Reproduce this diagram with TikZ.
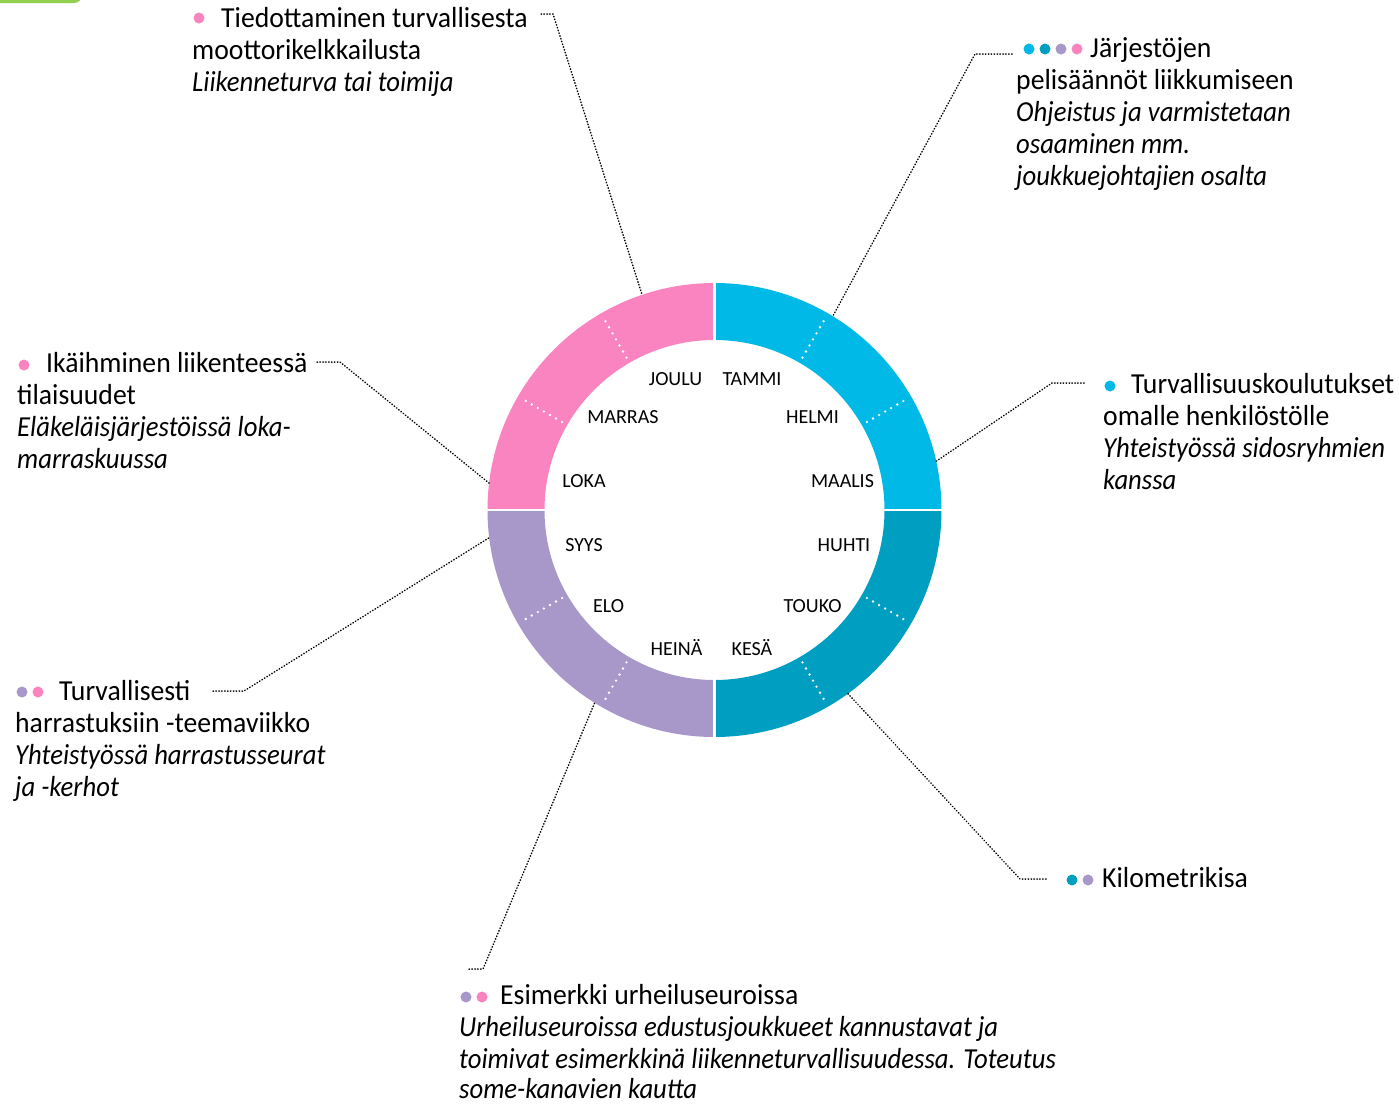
\documentclass[tikz,border=0pt]{standalone}
\usepackage{fontspec}
\setmainfont{Carlito}[UprightFeatures={FakeStretch=0.955}, ItalicFeatures={FakeStretch=0.92}]
\newfontfamily\monthfont{Carlito}
\definecolor{pinkc}{HTML}{F984BF}
\definecolor{cyanc}{HTML}{00B9E6}
\definecolor{tealc}{HTML}{009EC1}
\definecolor{purpc}{HTML}{A898C9}
\definecolor{greenc}{HTML}{92D050}
\begin{document}
\begin{tikzpicture}[x=1pt,y=-1pt,
  txt/.style={anchor=base west, inner sep=0pt, font=\fontsize{29}{32}\selectfont},
  itxt/.style={anchor=base west, inner sep=0pt, font=\fontsize{29}{32}\selectfont\itshape},
  mon/.style={anchor=base, inner sep=0pt, font=\monthfont\fontsize{20}{24}\selectfont},
  bul/.style={circle, inner sep=0pt, minimum size=11pt},
  conn/.style={line width=1.5pt, dash pattern=on 0.5pt off 2.4pt, line cap=round},
  wdiv/.style={white, line width=2.6pt, dash pattern=on 0pt off 7pt, line cap=round},
  gap/.style={white, line width=2.4pt}]
\useasboundingbox (0,0) rectangle (1399,1103);
\fill[white] (0,0) rectangle (1399,1103);
% green tab top-left
\fill[greenc, rounded corners=8pt] (-30,-40) rectangle (82,3);

% ring
\node[circle, inner sep=0pt, minimum size=454pt] (ring) at (714.5,510) {};
\begin{scope}[shift={(714.5,510)}]
  \fill[pinkc] (180:227) arc[start angle=180, end angle=270, radius=227] -- (270:170) arc[start angle=270, end angle=180, radius=170] -- cycle;
  \fill[cyanc] (270:227) arc[start angle=270, end angle=360, radius=227] -- (0:170) arc[start angle=360, end angle=270, radius=170] -- cycle;
  \fill[tealc] (0:227) arc[start angle=0, end angle=90, radius=227] -- (90:170) arc[start angle=90, end angle=0, radius=170] -- cycle;
  \fill[purpc] (90:227) arc[start angle=90, end angle=180, radius=227] -- (180:170) arc[start angle=180, end angle=90, radius=170] -- cycle;
  \foreach \a in {0,90,180,270} { \draw[gap] (\a:166) -- (\a:231); }
  \foreach \a in {30,60,120,150,210,240,300,330} { \draw[wdiv] (\a:176) -- (\a:222); }
  % ring end points of connectors
  \coordinate (rA) at (251.4:227);
  \coordinate (rB) at (301.4:227);
  \coordinate (rC) at (347.7:226);
  \coordinate (rD) at (186.8:227);
  \coordinate (rE) at (173:227);
  \coordinate (rF) at (54:227);
  \coordinate (rG) at (121.9:226);
\end{scope}

% month labels
\node[mon] (m12) at (675.5,385) {JOULU};
\node[mon] (m1) at (752,385) {TAMMI};
\node[mon] (m2) at (812.5,423) {HELMI};
\node[mon] (m11) at (623,423) {MARRAS};
\node[mon] (m10) at (584,487) {LOKA};
\node[mon] (m3) at (842.5,487) {MAALIS};
\node[mon] (m9) at (584,551) {SYYS};
\node[mon] (m4) at (844,551) {HUHTI};
\node[mon] (m8) at (608.5,612) {ELO};
\node[mon] (m5) at (812.5,612) {TOUKO};
\node[mon] (m7) at (676.5,655) {HEINÄ};
\node[mon] (m6) at (752,655) {KESÄ};

% block A
\node[bul, fill=pinkc] (bA) at (199,18) {};
\node[txt] (tA1) at (221,27) {Tiedottaminen turvallisesta};
\node[txt] (tA2) at (192,59) {moottorikelkkailusta};
\node[itxt] (tA3) at (192,91) {Liikenneturva tai toimija};
\coordinate (sA) at (541,14);
\coordinate (eA) at (553,14);
\draw[conn] (sA) -- (eA) -- (rA);

% block B
\node[bul, fill=cyanc] (bB1) at (1029,49) {};
\node[bul, fill=tealc] (bB2) at (1045,49) {};
\node[bul, fill=purpc] (bB3) at (1061,49) {};
\node[bul, fill=pinkc] (bB4) at (1077,49) {};
\node[txt] (tB1) at (1090,57) {Järjestöjen};
\node[txt] (tB2) at (1016,89) {pelisäännöt liikkumiseen};
\node[itxt] (tB3) at (1016,121) {Ohjeistus ja varmistetaan};
\node[itxt] (tB4) at (1016,153) {osaaminen mm.};
\node[itxt] (tB5) at (1016,185) {joukkuejohtajien osalta};
\coordinate (sB) at (1012,54);
\coordinate (eB) at (975,54);
\draw[conn] (sB) -- (eB) -- (rB);

% block C
\node[bul, fill=cyanc] (bC) at (1110,386) {};
\node[txt] (tC1) at (1131,393) {Turvallisuuskoulutukset};
\node[txt] (tC2) at (1103,425) {omalle henkilöstölle};
\node[itxt] (tC3) at (1103,457) {Yhteistyössä sidosryhmien};
\node[itxt] (tC4) at (1103,489) {kanssa};
\coordinate (sC) at (1084,383);
\coordinate (eC) at (1052,383);
\draw[conn] (sC) -- (eC) -- (rC);

% block D
\node[bul, fill=pinkc] (bD) at (24,365) {};
\node[txt] (tD1) at (46,372) {Ikäihminen liikenteessä};
\node[txt] (tD2) at (17,404) {tilaisuudet};
\node[itxt] (tD3) at (17,436) {Eläkeläisjärjestöissä loka-};
\node[itxt] (tD4) at (17,468) {marraskuussa};
\coordinate (sD) at (317,362);
\coordinate (eD) at (340,362);
\draw[conn] (sD) -- (eD) -- (rD);

% block E
\node[bul, fill=purpc] (bE1) at (22,692) {};
\node[bul, fill=pinkc] (bE2) at (38,692) {};
\node[txt] (tE1) at (59,700) {Turvallisesti};
\node[txt] (tE2) at (15,732) {harrastuksiin -teemaviikko};
\node[itxt] (tE3) at (15,764) {Yhteistyössä harrastusseurat};
\node[itxt] (tE4) at (15,796) {ja -kerhot};
\coordinate (sE) at (213,691);
\coordinate (eE) at (244,691);
\draw[conn] (sE) -- (eE) -- (rE);

% block F
\node[bul, fill=tealc] (bF1) at (1072,880) {};
\node[bul, fill=purpc] (bF2) at (1088,880) {};
\node[txt] (tF1) at (1102,887) {Kilometrikisa};
\coordinate (sF) at (1046,879);
\coordinate (eF) at (1020,879);
\draw[conn] (sF) -- (eF) -- (rF);

% block G
\node[bul, fill=purpc] (bG1) at (466,997) {};
\node[bul, fill=pinkc] (bG2) at (482,997) {};
\node[txt] (tG1) at (500,1004) {Esimerkki urheiluseuroissa};
\node[itxt] (tG2) at (459,1036) {Urheiluseuroissa edustusjoukkueet kannustavat ja};
\node[itxt] (tG3) at (459,1068) {toimivat esimerkkinä liikenneturvallisuudessa. Toteutus};
\node[itxt] (tG4) at (459,1098) {some-kanavien kautta};
\coordinate (sG) at (469,969);
\coordinate (eG) at (483,969);
\draw[conn] (sG) -- (eG) -- (rG);
\end{tikzpicture}
\end{document}
